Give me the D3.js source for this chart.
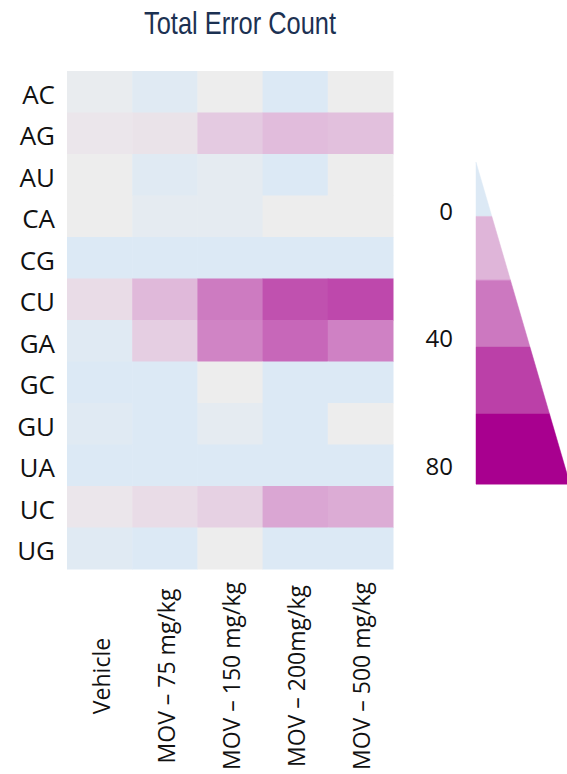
<!DOCTYPE html>
<html>
<head>
<meta charset="utf-8">
<script src="https://cdn.jsdelivr.net/npm/d3@7"></script>
<style>
  body { margin: 0; background: #fff; }
  svg { display: block; }
</style>
</head>
<body>
<svg width="567" height="774"></svg>
<script>
// data
var rows = ["AC", "AG", "AU", "CA", "CG", "CU", "GA", "GC", "GU", "UA", "UC", "UG"];
var groups = ["Vehicle", "MOV \u2013 75 mg/kg", "MOV \u2013 150 mg/kg", "MOV \u2013 200mg/kg", "MOV \u2013 500 mg/kg"];

// one array per row, in the order of groups
var AC = [3, 1, 4, 0, 4];
var AG = [6, 7, 14, 18, 17];
var AU = [4, 1, 2, 0, 4];
var CA = [4, 2, 2, 4, 4];
var CG = [0, 0, 0, 0, 0];
var CU = [9, 19, 39, 54, 57];
var GA = [1, 13, 36, 46, 37];
var GC = [0, 0, 4, 0, 0];
var GU = [1, 0, 2, 0, 4];
var UA = [0, 0, 0, 0, 0];
var UC = [6, 9, 12, 25, 23];
var UG = [1, 0, 4, 0, 0];
var counts = [AC, AG, AU, CA, CG, CU, GA, GC, GU, UA, UC, UG];

var colorStops = [0, 4, 20, 40, 60, 80];
var colorRange = ["#dce9f5", "#ededed", "#dfb5d9", "#cc78c0", "#bb40a8", "#a8008f"];

var legendBreaks = [-15, 2, 22, 43, 64, 86];
var legendColors = ["#dce9f5", "#dfb5d9", "#cc78c0", "#bb40a8", "#a8008f"];
var legendTicks = [0, 40, 80];

var svg = d3.select("svg");

var x = d3.scaleBand().domain(groups).range([67, 393]);
var y = d3.scaleBand().domain(rows).range([71, 569]);
var color = d3.scaleLinear().domain(colorStops).range(colorRange).clamp(true);

var cells = [];
rows.forEach(function(r, i) {
  groups.forEach(function(g, j) {
    cells.push({row: r, group: g, value: counts[i][j]});
  });
});

svg.append("g")
  .selectAll("rect")
  .data(cells)
  .enter().append("rect")
    .attr("x", function(d) { return x(d.group); })
    .attr("y", function(d) { return y(d.row); })
    .attr("width", x.bandwidth() + 0.5)
    .attr("height", y.bandwidth() + 0.5)
    .attr("fill", function(d) { return color(d.value); });

// title, narrow face
svg.append("text")
    .attr("transform", "translate(240,34) scale(0.82,1)")
    .attr("text-anchor", "middle")
    .style("font-family", "'Liberation Sans', Arial, sans-serif")
    .style("font-size", "31px")
    .style("fill", "#1c3152")
    .text("Total Error Count");

// row labels
svg.append("g")
  .selectAll("text")
  .data(rows)
  .enter().append("text")
    .attr("x", 55)
    .attr("y", function(d) { return y(d) + y.bandwidth() / 2 + 2; })
    .attr("text-anchor", "end")
    .attr("dominant-baseline", "central")
    .style("font-family", "'Open Sans', sans-serif")
    .style("font-size", "26px")
    .style("fill", "#111")
    .text(function(d) { return d; });

// column labels, rotated
svg.append("g")
  .selectAll("text")
  .data(groups)
  .enter().append("text")
    .attr("transform", function(d) {
      return "translate(" + (x(d) + x.bandwidth() / 2 + 1) + ",676) rotate(-90)";
    })
    .attr("text-anchor", "middle")
    .attr("dominant-baseline", "central")
    .style("font-family", "'Open Sans', sans-serif")
    .style("font-size", "23px")
    .style("fill", "#111")
    .text(function(d) { return d; });

// legend: wedge split into bands
var ly = d3.scaleLinear().domain([0, 80]).range([210, 465]);
var lw = d3.scaleLinear()
    .domain([legendBreaks[0], legendBreaks[legendBreaks.length - 1]])
    .range([0, 94]);
var lx = 476;

var bands = legendColors.map(function(c, i) {
  return {lo: legendBreaks[i], hi: legendBreaks[i + 1], color: c};
});

svg.append("g")
  .selectAll("polygon")
  .data(bands)
  .enter().append("polygon")
    .attr("points", function(d) {
      return [
        [lx, ly(d.lo)],
        [lx + lw(d.lo), ly(d.lo)],
        [lx + lw(d.hi), ly(d.hi)],
        [lx, ly(d.hi)]
      ].join(" ");
    })
    .attr("fill", function(d) { return d.color; })
    .attr("stroke", function(d) { return d.color; })
    .attr("stroke-width", 0.5);

svg.append("g")
  .selectAll("text")
  .data(legendTicks)
  .enter().append("text")
    .attr("x", 453)
    .attr("y", function(d) { return ly(d); })
    .attr("text-anchor", "end")
    .attr("dominant-baseline", "central")
    .style("font-family", "'Open Sans', sans-serif")
    .style("font-size", "24px")
    .style("fill", "#111")
    .text(function(d) { return d; });
</script>
</body>
</html>
